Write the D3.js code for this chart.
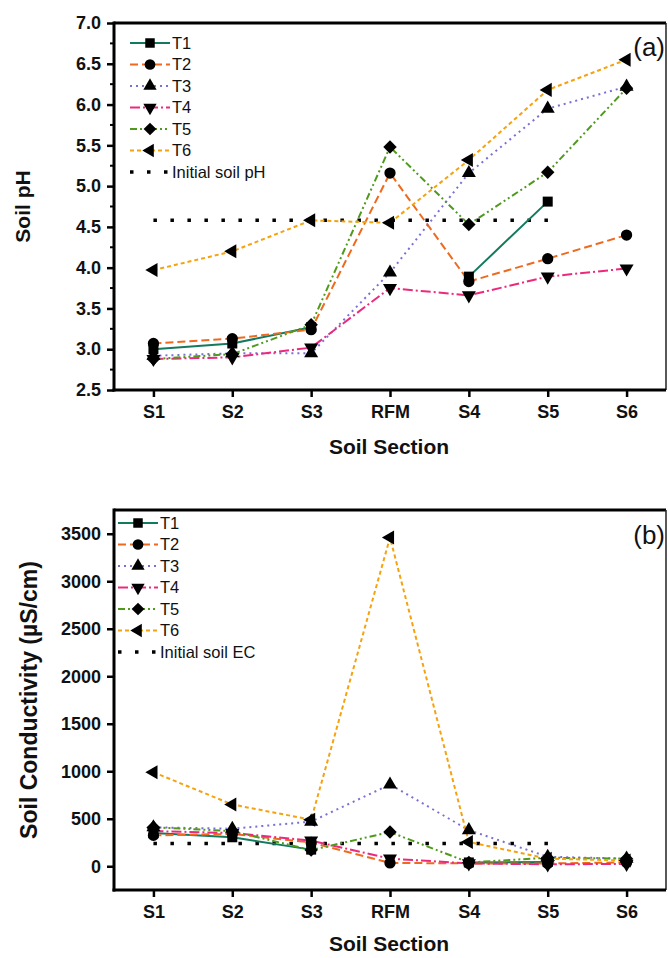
<!DOCTYPE html>
<html><head><meta charset="utf-8">
<script src="https://cdn.jsdelivr.net/npm/d3@7"></script>
<style>body{margin:0;background:#fff}svg{display:block;font-family:"Liberation Sans",Arial,sans-serif}</style>
</head><body><svg id="c" width="668" height="958"></svg>
<script>
const categories = ["S1","S2","S3","RFM","S4","S5","S6"];
const seriesNames = ["T1","T2","T3","T4","T5","T6"];
// Soil pH
const phT1 = [3.00, 3.07, 3.27, null, 3.89, 4.81, null];
const phT2 = [3.07, 3.13, 3.24, 5.16, 3.83, 4.11, 4.40];
const phT3 = [2.92, 2.95, 2.95, 3.94, 5.16, 5.95, 6.22];
const phT4 = [2.88, 2.90, 3.02, 3.75, 3.66, 3.89, 3.99];
const phT5 = [2.88, 2.94, 3.30, 5.48, 4.53, 5.17, 6.20];
const phT6 = [3.97, 4.20, 4.58, 4.55, 5.32, 6.18, 6.55];
const initialPH = 4.58;
const phTicks = [2.5,3.0,3.5,4.0,4.5,5.0,5.5,6.0,6.5,7.0];
// Soil EC (µS/cm)
const ecT1 = [350, 305, 175, null, 40, 45, null];
const ecT2 = [325, 340, 250, 35, 30, 30, 40];
const ecT3 = [410, 395, 470, 860, 380, 100, 80];
const ecT4 = [370, 350, 270, 80, 30, 20, 25];
const ecT5 = [410, 370, 170, 360, 40, 90, 80];
const ecT6 = [990, 650, 490, 3460, 255, 80, 60];
const initialEC = 240;
const ecTicks = [0,500,1000,1500,2000,2500,3000,3500];

const colors = ["#137a5e","#ee6a1f","#7a6fd4","#ec2a7d","#4f9a1c","#f5a20f"];
const dashes = [null,"8,4","2,4","10,3,2,3","7,3,2,3,2,3","4,3"];
const symbols = [
  {t:d3.symbolSquare, s:100, r:0},
  {t:d3.symbolCircle, s:100, r:0},
  {t:d3.symbolTriangle, s:85, r:0},
  {t:d3.symbolTriangle, s:85, r:180},
  {t:d3.symbolSquare, s:90, r:45},
  {t:d3.symbolTriangle, s:85, r:-90}
];

const svg = d3.select("#c");

function panel(cfg){
  const {top,bottom,left,right,domain,ticks,minor,fmt,data,initial,initLabel,ylabel,ylabelX,ylabelSize,tag,tagY,legX,legY,xlabOff} = cfg;
  const x = d3.scaleLinear().domain([0.5,7.5]).range([left,right]);
  const y = d3.scaleLinear().domain(domain).range([bottom,top]);
  const g = svg.append("g");
  g.append("line").attr("x1",left).attr("x2",right).attr("y1",top).attr("y2",top).attr("stroke","#000").attr("stroke-width",3);
  g.append("line").attr("x1",right).attr("x2",right).attr("y1",top).attr("y2",bottom).attr("stroke","#222").attr("stroke-width",1.5);
  const ya = g.append("g").attr("transform",`translate(${left},0)`)
    .call(d3.axisLeft(y).tickValues(ticks).tickFormat(fmt).tickSize(7).tickPadding(6));
  if(minor){
    ya.selectAll(".minor").data(minor).enter().append("line").attr("class","minor")
      .attr("x1",0).attr("x2",-4).attr("y1",d=>y(d)).attr("y2",d=>y(d)).attr("stroke","#000").attr("stroke-width",2);
  }
  const xa = g.append("g").attr("transform",`translate(0,${bottom})`)
    .call(d3.axisBottom(x).tickValues(d3.range(1,8)).tickFormat(i=>categories[i-1]).tickSize(7).tickPadding(8));
  [ya,xa].forEach(a=>{
    a.select(".domain").attr("stroke","#000").attr("stroke-width",3);
    a.selectAll(".tick line").attr("stroke","#000").attr("stroke-width",2.5);
    a.selectAll("text").attr("font-size",18).attr("font-weight","bold").attr("fill","#111")
      .attr("font-family","'Liberation Sans',Arial,sans-serif");
  });
  ya.select(".domain").attr("d",`M0,${bottom+1.5}V${top-1.5}`);
  xa.select(".domain").attr("d",`M${left-1.5},0H${right}`);
  g.append("text").attr("x",(left+right)/2-1).attr("y",bottom+xlabOff).attr("text-anchor","middle")
    .attr("font-size",21).attr("font-weight","bold").attr("fill","#111").text("Soil Section");
  g.append("text").attr("transform",`translate(${ylabelX},${(top+bottom)/2}) rotate(-90)`).attr("text-anchor","middle")
    .attr("font-size",ylabelSize).attr("font-weight","bold").attr("fill","#111").text(ylabel);
  g.append("text").attr("x",right-1).attr("y",tagY).attr("text-anchor","end").attr("font-size",26)
    .attr("fill","#111").text(tag);
  g.append("line").attr("x1",x(1)).attr("x2",x(6)+2).attr("y1",y(initial)).attr("y2",y(initial))
    .attr("stroke","#000").attr("stroke-width",3.5).attr("stroke-dasharray","3.5,13.5");
  const line = d3.line().defined(d=>d.v!=null).x(d=>x(d.i+1)).y(d=>y(d.v));
  data.forEach((arr,k)=>{
    const pts = arr.map((v,i)=>({v,i}));
    g.append("path").attr("d",line(pts)).attr("fill","none").attr("stroke",colors[k]).attr("stroke-width",2)
      .attr("stroke-dasharray",dashes[k]);
  });
  data.forEach((arr,k)=>{
    const sym = d3.symbol().type(symbols[k].t).size(symbols[k].s);
    g.selectAll(null).data(arr.map((v,i)=>({v,i})).filter(d=>d.v!=null)).enter().append("path")
      .attr("d",sym).attr("fill","#000")
      .attr("transform",d=>`translate(${x(d.i+1)},${y(d.v)}) rotate(${symbols[k].r})`);
  });
  const lg = g.append("g").attr("transform",`translate(${legX},${legY})`);
  seriesNames.forEach((n,k)=>{
    const yy = k*21.5;
    lg.append("line").attr("x1",0).attr("x2",40).attr("y1",yy).attr("y2",yy).attr("stroke",colors[k])
      .attr("stroke-width",2).attr("stroke-dasharray",dashes[k]);
    lg.append("path").attr("d",d3.symbol().type(symbols[k].t).size(symbols[k].s*0.9)).attr("fill","#000")
      .attr("transform",`translate(20,${yy}) rotate(${symbols[k].r})`);
    lg.append("text").attr("x",42).attr("y",yy).attr("dy","0.36em").attr("font-size",16.5).attr("fill","#111").text(n);
  });
  const yy = 6*21.5;
  lg.append("line").attr("x1",0).attr("x2",40).attr("y1",yy).attr("y2",yy).attr("stroke","#000")
    .attr("stroke-width",3.5).attr("stroke-dasharray","3.5,13.5");
  lg.append("text").attr("x",42).attr("y",yy).attr("dy","0.36em").attr("font-size",16.5).attr("fill","#111").text(initLabel);
}

panel({top:23,bottom:390,left:114,right:666,domain:[2.5,7.0],ticks:phTicks,
  minor:d3.range(2.75,7.0,0.5),fmt:d3.format(".1f"),
  data:[phT1,phT2,phT3,phT4,phT5,phT6],initial:initialPH,initLabel:"Initial soil pH",
  ylabel:"Soil pH",ylabelX:30,ylabelSize:21,tag:"(a)",tagY:56,legX:130,legY:43,xlabOff:64});

panel({top:510,bottom:890,left:114,right:666,domain:[-250,3750],ticks:ecTicks,
  minor:null,fmt:d3.format("d"),
  data:[ecT1,ecT2,ecT3,ecT4,ecT5,ecT6],initial:initialEC,initLabel:"Initial soil EC",
  ylabel:"Soil Conductivity (µS/cm)",ylabelX:37,ylabelSize:23,tag:"(b)",tagY:544,legX:118,legY:523,xlabOff:61});
</script></body></html>
